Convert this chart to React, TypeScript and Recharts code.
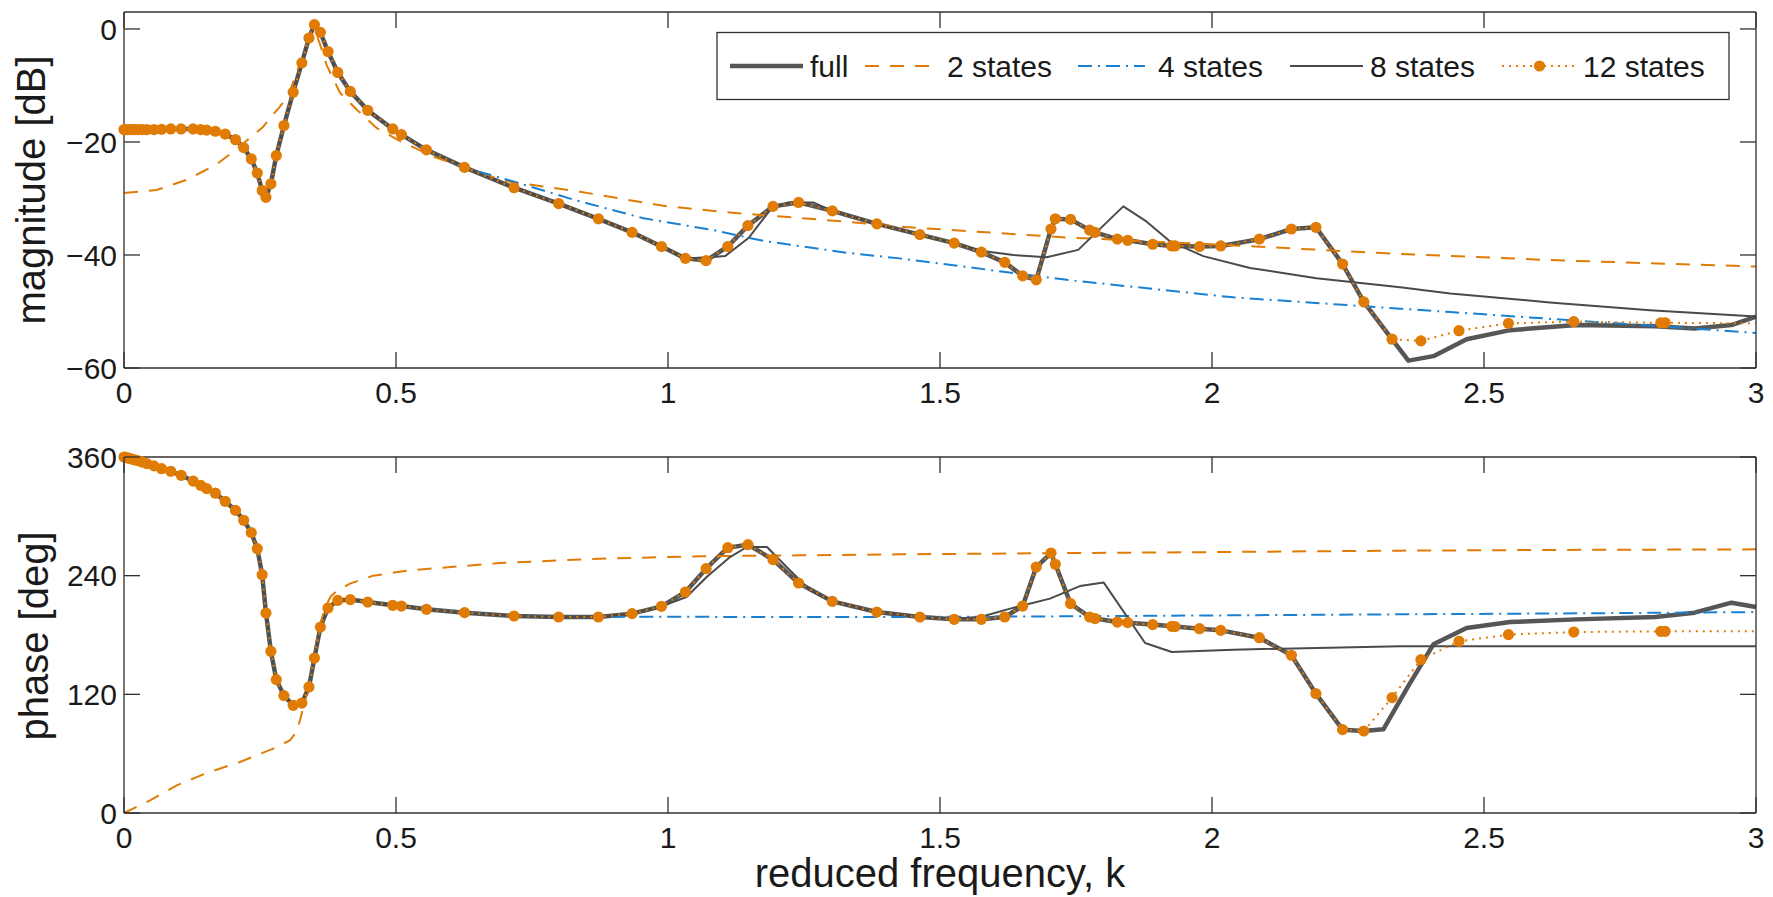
import React from "react";
import { LineChart, Line, XAxis, YAxis } from "recharts";

// sample points of the full model (12-state markers sit on these too)
const kSample = [
  0, 0.003, 0.006, 0.01, 0.014, 0.019, 0.025, 0.033, 0.042, 0.055, 0.069, 0.086, 0.105, 0.127, 0.141, 0.152,
  0.168, 0.186, 0.205, 0.22, 0.234, 0.245, 0.254, 0.261, 0.27, 0.28, 0.294, 0.311, 0.327, 0.34, 0.35, 0.361,
  0.375, 0.393, 0.416, 0.448, 0.494, 0.51, 0.556, 0.626, 0.717, 0.799, 0.872, 0.934, 0.988, 1.032, 1.07, 1.11,
  1.147, 1.193, 1.24, 1.302, 1.384, 1.463, 1.526, 1.576, 1.619, 1.652, 1.677, 1.704, 1.712, 1.74, 1.775, 1.785,
  1.826, 1.845, 1.891, 1.926, 1.932, 1.977, 2.016, 2.087, 2.146, 2.191, 2.24, 2.279, 2.331, 2.384, 2.454, 2.545,
  2.665, 2.825, 2.833, 3.0,
];
const mag12 = [
  -17.8, -17.8, -17.8, -17.8, -17.8, -17.8, -17.8, -17.8, -17.8, -17.8, -17.75, -17.7, -17.7, -17.7, -17.8, -17.9,
  -18.1, -18.6, -19.6, -21.0, -23.0, -25.5, -28.6, -29.8, -27.4, -22.4, -17.1, -11.2, -6.0, -1.6, 0.76, -0.6,
  -4.0, -7.7, -11.05, -14.4, -17.7, -18.7, -21.4, -24.5, -28.1, -30.9, -33.6, -36.0, -38.5, -40.6, -41.0, -38.5,
  -34.8, -31.4, -30.7, -32.2, -34.5, -36.4, -37.9, -39.5, -41.3, -43.7, -44.4, -35.4, -33.6, -33.7, -35.6, -36.0,
  -37.2, -37.4, -38.1, -38.4, -38.4, -38.5, -38.4, -37.2, -35.4, -35.1, -41.6, -48.3, -54.9, -55.2, -53.4, -52.1,
  -51.8, -52.0, -52.0, -52.1,
];
const phase12 = [
  360, 359.6, 359.2, 358.6, 358.0, 357.2, 356.3, 355.0, 353.4, 351.0, 348.2, 345.6, 341.5, 335.7, 331.4, 328.0,
  323.4, 315.2, 306.0, 296.0, 283.5, 267.3, 241.0, 202.2, 163.5, 134.9, 118.7, 108.9, 111.2, 127.4, 156.7, 188.0,
  207.3, 215.0, 215.8, 213.3, 210.0, 209.3, 206.0, 202.6, 199.2, 198.2, 198.2, 201.6, 209.0, 223.5, 247.1, 268.3,
  271.4, 256.2, 232.6, 214.0, 203.2, 198.2, 195.9, 195.9, 198.2, 209.3, 248.7, 262.9, 251.5, 211.7, 198.2, 196.6,
  193.1, 192.5, 190.5, 188.8, 188.5, 186.4, 184.7, 177.3, 159.5, 120.7, 84.3, 82.9, 116.7, 155.1, 173.6, 180.4,
  183.0, 183.7, 183.7, 183.7,
];

// full model departs from the 12-state fit after k = 2.28
const kFullTail = [2.315, 2.361, 2.407, 2.468, 2.548, 2.67, 2.815, 2.887, 2.955, 3.0];
const magFullTail = [-52.9, -58.7, -57.9, -54.9, -53.3, -52.4, -52.6, -53.0, -52.4, -50.9];
const phaseFullTail = [84.6, 128.5, 170.6, 187.0, 193.1, 195.8, 198.3, 202.6, 212.7, 208.3];

// 2 states
const k2Mag = [
  0, 0.06, 0.115, 0.17, 0.213, 0.256, 0.2684, 0.287, 0.296, 0.305, 0.32, 0.335, 0.345, 0.352, 0.36, 0.3725,
  0.397, 0.428, 0.464, 0.507, 0.569, 0.62, 0.7, 0.838, 0.991, 1.114, 1.328, 1.426, 1.733, 2.039, 2.321, 2.621, 3.0,
];
const mag2 = [
  -29.05, -28.5, -26.7, -24.0, -20.8, -17.3, -15.8, -13.7, -12.5, -11.0, -7.0, -2.8, -0.5, -0.6, -2.6, -6.4,
  -11.3, -14.3, -17.5, -19.8, -22.6, -24.3, -26.9, -28.8, -31.3, -32.5, -34.1, -35.0, -36.9, -38.3, -39.7, -40.9, -42.05,
];
const k2Phase = [
  0, 0.048, 0.097, 0.152, 0.213, 0.2745, 0.305, 0.317, 0.3235, 0.33, 0.34, 0.35, 0.36, 0.37, 0.38, 0.39,
  0.4154, 0.458, 0.526, 0.691, 0.875, 1.059, 1.243, 1.426, 1.733, 2.039, 2.346, 2.621, 3.0,
];
const phase2 = [
  0, 12.8, 28, 40.4, 51.6, 65.1, 73.5, 81.9, 93.7, 108, 128, 158, 190, 208, 219, 224,
  232, 240, 245.4, 252.8, 257.2, 259.6, 260.6, 261.6, 262.8, 264, 265.3, 266, 266.6,
];

// 4 states (same as full at low k)
const k4MagTail = [0.626, 0.673, 0.716, 0.826, 0.955, 1.083, 1.175, 1.328, 1.426, 1.733, 2.039, 2.254, 2.346, 2.438, 2.683, 2.866, 3.0];
const mag4Tail = [-24.6, -25.8, -27.0, -30.2, -33.5, -35.6, -37.5, -39.6, -40.6, -44.4, -47.5, -48.9, -49.5, -50.1, -51.7, -52.9, -53.8];
const k4PhaseTail = [0.934, 1.1, 1.4, 1.7, 2.039, 2.346, 2.7, 3.0];
const phase4Tail = [198.5, 198.3, 198.2, 198.8, 199.9, 200.9, 202.0, 203.2];

// 8 states
const k8MagTail = [
  1.089, 1.105, 1.148, 1.188, 1.221, 1.267, 1.302, 1.384, 1.463, 1.526, 1.578, 1.635, 1.696, 1.754, 1.837, 1.88,
  1.923, 1.984, 2.07, 2.192, 2.346, 2.438, 2.621, 2.805, 3.0,
];
const mag8Tail = [
  -40.3, -40.2, -37.0, -32.0, -30.7, -30.7, -32.2, -34.5, -36.4, -37.9, -39.3, -40.0, -40.4, -39.1, -31.4, -34.1,
  -37.6, -40.2, -42.3, -44.1, -45.7, -46.8, -48.4, -49.8, -50.9,
];
const k8PhaseTail = [
  1.034, 1.071, 1.114, 1.145, 1.182, 1.218, 1.261, 1.302, 1.384, 1.463, 1.526, 1.576, 1.629, 1.702, 1.757, 1.801,
  1.877, 1.926, 2.039, 2.346, 3.0,
];
const phase8Tail = [
  218.4, 238.6, 258.8, 269.0, 269.0, 248.7, 225.2, 214.0, 203.2, 198.2, 196.5, 198.5, 206.7, 216.8, 229.5, 233.0,
  171.9, 162.8, 165.2, 168.6, 168.5,
];

const xTicks = [0, 0.5, 1, 1.5, 2, 2.5, 3];
const magTicks = [-60, -40, -20, 0];
const phaseTicks = [0, 120, 240, 360];

const FONT = '"Liberation Sans", Arial, Helvetica, sans-serif';
const INK = "#1a1a1a";
const AXIS = "#303030";
const GRAY = "#565656";
const GRAY8 = "#4a4a4a";
const ORANGE = "#E07C05";
const BLUE = "#1A80D2";

const PLOT_W = 1632;
const PLOT_H = 356;
const TICK_LEN = 16;
const X_MARGIN = 14;
const Y_MARGIN = 7;

type Pt = { k: number; y: number };
const zip = (ks: number[], vs: number[]): Pt[] => ks.map((k, i) => ({ k, y: vs[i] }));
const head = (n: number) => kSample.slice(0, n);

const magSeries = {
  full: zip([...head(76), ...kFullTail], [...mag12.slice(0, 76), ...magFullTail]),
  s2: zip(k2Mag, mag2),
  s4: zip([...head(39), ...k4MagTail], [...mag12.slice(0, 39), ...mag4Tail]),
  s8: zip([...head(46), ...k8MagTail], [...mag12.slice(0, 46), ...mag8Tail]),
  s12: zip(kSample, mag12),
};
const phaseSeries = {
  full: zip([...head(76), ...kFullTail], [...phase12.slice(0, 76), ...phaseFullTail]),
  s2: zip(k2Phase, phase2),
  s4: zip([...head(43), ...k4PhaseTail], [...phase12.slice(0, 43), ...phase4Tail]),
  s8: zip([...head(45), ...k8PhaseTail], [...phase12.slice(0, 45), ...phase8Tail]),
  s12: zip(kSample, phase12),
};

const styles = {
  full: { stroke: GRAY, width: 4.5, dash: undefined as string | undefined },
  s2: { stroke: ORANGE, width: 2, dash: "14 11" },
  s4: { stroke: BLUE, width: 2, dash: "14 6 2 6" },
  s8: { stroke: GRAY8, width: 2, dash: undefined as string | undefined },
  s12: { stroke: ORANGE, width: 2, dash: "2 5" },
};

const lastIdx = kSample.length - 1;
const markerDot = (props: any) => {
  const { cx, cy, index } = props;
  if (index === lastIdx || cx == null || cy == null) return <g key={`m${index}`} />;
  return <circle key={`m${index}`} cx={cx} cy={cy} r={5.6} fill={ORANGE} stroke="none" />;
};

const fmtY = (v: number) => (v < 0 ? `\u2212${Math.abs(v)}` : `${v}`);

// tick label plus inward tick marks on both opposite edges (MATLAB box style)
const XTick = (props: any) => {
  const { x, y, payload } = props;
  const yb = y - X_MARGIN;
  const yt = yb - PLOT_H;
  return (
    <g>
      <line x1={x} x2={x} y1={yb} y2={yb - TICK_LEN} stroke={AXIS} strokeWidth={1.3} />
      <line x1={x} x2={x} y1={yt} y2={yt + TICK_LEN} stroke={AXIS} strokeWidth={1.3} />
      <text x={x} y={y} dy="0.71em" textAnchor="middle" fontSize={30} fontFamily={FONT} fill={INK}>
        {String(payload.value)}
      </text>
    </g>
  );
};
const YTick = (props: any) => {
  const { x, y, payload } = props;
  const xl = x + Y_MARGIN;
  const xr = xl + PLOT_W;
  return (
    <g>
      <line x1={xl} x2={xl + TICK_LEN} y1={y} y2={y} stroke={AXIS} strokeWidth={1.3} />
      <line x1={xr} x2={xr - TICK_LEN} y1={y} y2={y} stroke={AXIS} strokeWidth={1.3} />
      <text x={x} y={y} dy="0.355em" textAnchor="end" fontSize={30} fontFamily={FONT} fill={INK}>
        {fmtY(payload.value)}
      </text>
    </g>
  );
};

const lineStyle = { stroke: AXIS, strokeWidth: 1.3 };

function Panel({
  height,
  top,
  axisH,
  domain,
  ticks,
  data,
}: {
  height: number;
  top: number;
  axisH: number;
  domain: [number, number];
  ticks: number[];
  data: typeof magSeries;
}) {
  const order = ["full", "s2", "s4", "s8", "s12"] as const;
  return (
    <LineChart width={1773} height={height} margin={{ top, right: 17, bottom: 0, left: 0 }}>
      <XAxis
        xAxisId="b"
        dataKey="k"
        type="number"
        domain={[0, 3]}
        ticks={xTicks}
        interval={0}
        height={axisH}
        tickLine={false}
        tickSize={0}
        tickMargin={X_MARGIN}
        axisLine={lineStyle}
        tick={XTick}
      />
      <XAxis xAxisId="t" orientation="top" type="number" domain={[0, 3]} mirror tick={false} tickLine={false} axisLine={lineStyle} />
      <YAxis
        yAxisId="l"
        type="number"
        domain={domain}
        ticks={ticks}
        interval={0}
        width={124}
        tickLine={false}
        tickSize={0}
        tickMargin={Y_MARGIN}
        axisLine={lineStyle}
        tick={YTick}
      />
      <YAxis yAxisId="r" orientation="right" type="number" domain={domain} mirror tick={false} tickLine={false} axisLine={lineStyle} />
      {order.map((key) => (
        <Line
          key={key}
          xAxisId="b"
          yAxisId="l"
          data={data[key]}
          dataKey="y"
          type="linear"
          stroke={styles[key].stroke}
          strokeWidth={styles[key].width}
          strokeDasharray={styles[key].dash}
          strokeLinejoin="round"
          dot={key === "s12" ? markerDot : false}
          activeDot={false}
          isAnimationActive={false}
        />
      ))}
    </LineChart>
  );
}

const legendItems = [
  { label: "full", key: "full", x0: 730, x1: 803, tx: 810 },
  { label: "2 states", key: "s2", x0: 865, x1: 933, tx: 947 },
  { label: "4 states", key: "s4", x0: 1078, x1: 1145, tx: 1158 },
  { label: "8 states", key: "s8", x0: 1290, x1: 1363, tx: 1370 },
  { label: "12 states", key: "s12", x0: 1502, x1: 1577, tx: 1583 },
] as const;

function Overlay() {
  return (
    <svg width={1773} height={897} style={{ position: "absolute", left: 0, top: 0, pointerEvents: "none" }}>
      <rect x={717} y={32.5} width={1012} height={67} fill="#fff" stroke={AXIS} strokeWidth={1.3} />
      {legendItems.map((it) => {
        const s = styles[it.key];
        return (
          <g key={it.key}>
            <line x1={it.x0} x2={it.x1} y1={66} y2={66} stroke={s.stroke} strokeWidth={s.width} strokeDasharray={s.dash} />
            {it.key === "s12" && <circle cx={(it.x0 + it.x1) / 2} cy={66} r={5.6} fill={ORANGE} />}
            <text x={it.tx} y={77} fontSize={30} fontFamily={FONT} fill={INK}>
              {it.label}
            </text>
          </g>
        );
      })}
      <text transform="translate(45,190) rotate(-90)" textAnchor="middle" fontSize={40} fontFamily={FONT} fill={INK}>
        magnitude [dB]
      </text>
      <text transform="translate(48,636) rotate(-90)" textAnchor="middle" fontSize={40} fontFamily={FONT} fill={INK}>
        phase [deg]
      </text>
      <text x={940} y={887} textAnchor="middle" fontSize={40} fontFamily={FONT} fill={INK}>
        reduced frequency, k
      </text>
    </svg>
  );
}

export default function App() {
  return (
    <div style={{ position: "absolute", left: 0, top: 0, width: 1773, height: 897, background: "#fff" }}>
      <div style={{ position: "absolute", left: 0, top: 0 }}>
        <Panel height={420} top={12} axisH={52} domain={[-60, 3]} ticks={magTicks} data={magSeries} />
      </div>
      <div style={{ position: "absolute", left: 0, top: 420 }}>
        <Panel height={477} top={37} axisH={84} domain={[0, 360]} ticks={phaseTicks} data={phaseSeries} />
      </div>
      <Overlay />
    </div>
  );
}
